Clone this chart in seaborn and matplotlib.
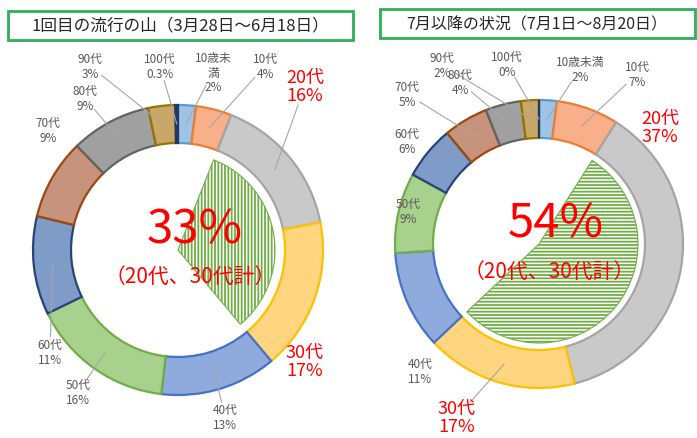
import numpy as np
import matplotlib
matplotlib.use("Agg")
import matplotlib.pyplot as plt
import seaborn as sns
from matplotlib.patches import Wedge, Rectangle

sns.set_theme(style="white")
plt.rcParams['font.family'] = ['Noto Sans CJK JP', 'DejaVu Sans']
plt.rcParams['hatch.linewidth'] = 1.3

# Data
ages = ["10歳未満", "10代", "20代", "30代", "40代", "50代", "60代", "70代", "80代", "90代", "100代"]
wave1 = [2, 4, 16, 17, 13, 16, 11, 9, 9, 3, 0.3]
wave2 = [2, 7, 37, 17, 11, 9, 6, 5, 4, 2, 0]
title1 = "1回目の流行の山（3月28日～6月18日）"
title2 = "7月以降の状況（7月1日～8月20日）"
focus = ["20代", "30代"]
focus_note = "（20代、30代計）"

fills = ["#9DC3E6", "#F8B08A", "#C9C9C9", "#FFD580", "#8FAADC", "#A9D18E",
         "#7F9BC8", "#C8937D", "#A0A0A0", "#C9A867", "#203864"]
edges = ["#5B9BD5", "#ED7D31", "#A5A5A5", "#FFC000", "#4472C4", "#70AD47",
         "#264478", "#9E480E", "#636363", "#997300", "#203864"]

H = 439
fig = plt.figure(figsize=(6.97, 4.39), dpi=100)
ax = fig.add_axes([0, 0, 1, 1])


def Y(y):
    return H - y


def donut(values, cx, cy, R, W, r_in, hatch, label_pos, leaders, share_pos, note_pos, wrap=None):
    wedges, _ = ax.pie(values, colors=fills, startangle=90, counterclock=False,
                       radius=R, center=(cx, Y(cy)),
                       wedgeprops=dict(width=W, linewidth=1.6))
    for w, ec in zip(wedges, edges):
        w.set_edgecolor(ec)
    vals = np.array(values, dtype=float)
    frac = np.cumsum(vals) / vals.sum()
    start = np.concatenate([[0], frac[:-1]])
    mid = (start + frac) / 2

    # hatched inner wedge for 20s + 30s
    i0, i1 = ages.index(focus[0]), ages.index(focus[1])
    a1, a2 = start[i0], frac[i1]
    ax.add_patch(Wedge((cx, Y(cy)), r_in, 90 - a2 * 360, 90 - a1 * 360,
                       facecolor="white", edgecolor="#70AD47", hatch=hatch,
                       linewidth=0.8))
    share = vals[i0] + vals[i1]
    ax.text(share_pos[0], Y(share_pos[1]), f"{share:g}%", color="#FF0000", fontsize=34,
            ha="center", va="center")
    ax.text(note_pos[0], Y(note_pos[1]), focus_note, color="#FF0000", fontsize=15,
            ha="center", va="center")

    for k, name in enumerate(ages):
        lx, ly = label_pos[k]
        text = (wrap or {}).get(name, name) + f"\n{vals[k]:g}%"
        red = name in focus
        ax.text(lx, Y(ly), text, ha="center", va="center",
                color="#FF0000" if red else "#595959",
                fontsize=13 if red else 8.5, linespacing=1.05 if red else 1.15)
        if leaders[k]:
            ang = mid[k] * 2 * np.pi
            rm = R - W / 2
            tx, ty = cx + rm * np.sin(ang), Y(cy) + rm * np.cos(ang)
            sx, sy = lx, Y(ly)
            d = np.hypot(tx - sx, ty - sy)
            off = 20 if red else 15
            sx, sy = sx + (tx - sx) * off / d, sy + (ty - sy) * off / d
            ax.plot([sx, tx], [sy, ty], color="#A6A6A6", lw=0.8)


# Chart 1
pos1 = [(213, 73), (265, 67), (305, 87), (305, 362), (225, 418), (78, 393),
        (50, 353), (48, 131), (85, 99), (90, 67), (160, 67)]
lead1 = [True, True, True, False, True, True, True, False, True, True, True]
donut(wave1, 178, 251, 145, 38, 97, "|||||", pos1, lead1, (195, 230), (190, 277),
      wrap={"10歳未満": "10歳未\n満"})

# Chart 2
pos2 = [(580, 70), (637, 75), (660, 128), (457, 418), (420, 372), (408, 212),
        (407, 142), (407, 95), (460, 83), (442, 66), (507, 65)]
lead2 = [True, True, False, True, False, False, False, True, True, True, True]
donut(wave2, 539, 245, 144, 38, 99, "-----", pos2, lead2, (556, 224), (549, 272))

# Title boxes
ax.add_patch(Rectangle((8, Y(41)), 345, 29, fill=False, edgecolor="#2EAF5A", lw=2))
ax.text(180, Y(26), title1, fontsize=12, ha="center", va="center", color="#262626")
ax.add_patch(Rectangle((380, Y(39)), 315, 29, fill=False, edgecolor="#2EAF5A", lw=2))
ax.text(537, Y(25), title2, fontsize=11.5, ha="center", va="center", color="#262626")

ax.set_xlim(0, 697)
ax.set_ylim(0, H)
ax.set_aspect("auto")
ax.axis("off")

plt.savefig("out.png", dpi=100)
